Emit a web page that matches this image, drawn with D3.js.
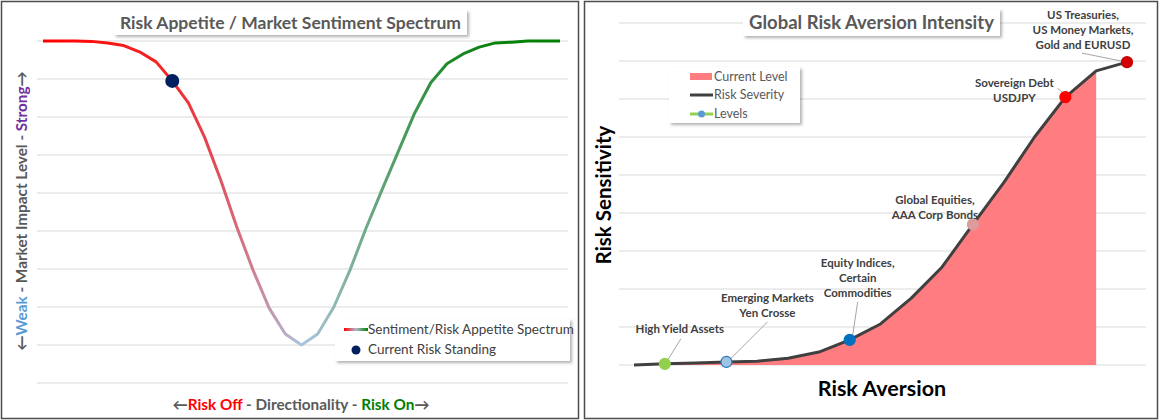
<!DOCTYPE html>
<html>
<head>
<meta charset="utf-8">
<script src="https://cdn.jsdelivr.net/npm/d3@7"></script>
<style>
    body { margin: 0; background: #fff; }
    svg { display: block; }
    text { font-family: Lato, "Open Sans", sans-serif; }
</style>
</head>
<body>
<svg id="chart" width="1160" height="420"></svg>
<script>
// Left panel: sentiment spectrum, 33 steps from risk off to risk on
const spectrumSteps = [-16, -15, -14, -13, -12, -11, -10, -9, -8, -7, -6, -5, -4, -3, -2, -1, 0,
    1, 2, 3, 4, 5, 6, 7, 8, 9, 10, 11, 12, 13, 14, 15, 16];
const spectrumValues = [9.0, 9.0, 9.0, 8.99, 8.95, 8.88, 8.71, 8.45, 7.95, 7.37, 6.47, 5.34, 4.1, 2.97, 1.97, 1.29, 1.0,
    1.29, 2.0, 2.97, 4.08, 5.1, 6.1, 7.1, 7.9, 8.4, 8.66, 8.84, 8.95, 8.97, 9.0, 9.0, 9.0];
const currentStanding = -8;
const impactLevels = [0, 1, 2, 3, 4, 5, 6, 7, 8, 9];

// Right panel: risk aversion intensity
const aversionSteps = [1, 2, 3, 4, 5, 6, 7, 8, 9, 10, 11, 12, 13, 14, 15, 16, 17];
const severityValues = [0, 0.03, 0.05, 0.08, 0.1, 0.18, 0.34, 0.66, 1.08, 1.76, 2.58, 3.7, 4.8, 6.0, 7.05, 7.74, 7.97];
const currentLevelValues = [0, 0.03, 0.05, 0.08, 0.1, 0.18, 0.34, 0.66, 1.08, 1.76, 2.58, 3.7, 4.8, 6.0, 7.05, 7.74, null];
const levelSteps = [2, 4, 8, 12, 15, 17];
const levelLabels = [
    ['High Yield Assets'],
    ['Emerging Markets', 'Yen Crosse'],
    ['Equity Indices,', 'Certain', 'Commodities'],
    ['Global Equities,', 'AAA Corp Bonds'],
    ['Sovereign Debt', 'USDJPY'],
    ['US Treasuries,', 'US Money Markets,', 'Gold and EURUSD'],
];
const sensitivityLevels = [0, 1, 2, 3, 4, 5, 6, 7, 8, 9];

const levelFill = ['#92d050', '#9dc3e6', '#0070c0', '#dd9c9c', '#ff0000', '#d40000'];
const levelStroke = ['#92d050', '#2e75b6', '#0070c0', '#dd9c9c', '#ff0000', '#c00000'];
// label centre offsets from each dot, and leader line ends
const labelLayout = [
    { dx: 15, dy: -35, lead: [[16, -25], [3, -4]] },
    { dx: 41, dy: -56.5, lead: [[41, -40], [4, -3]] },
    { dx: 8, dy: -62, lead: [[8, -38], [3, -5]] },
    { dx: -38, dy: -17, lead: null },
    { dx: -51, dy: -6.5, lead: [[-8, -9], [-2, -4]] },
    { dx: -44, dy: -32.5, lead: [[-45, -9], [-5, -1]] },
];

const svg = d3.select('#chart');
const defs = svg.append('defs');

const shadow = defs.append('filter').attr('id', 'shadow')
    .attr('x', '-10%').attr('y', '-20%').attr('width', '130%').attr('height', '160%');
shadow.append('feDropShadow')
    .attr('dx', 2).attr('dy', 2).attr('stdDeviation', 1.5)
    .attr('flood-color', '#000').attr('flood-opacity', 0.3);

// panel frames
svg.append('rect').attr('x', 1.5).attr('y', 1.5).attr('width', 577).attr('height', 417)
    .attr('fill', '#fff').attr('stroke', '#4d4d4d').attr('stroke-width', 1.5);
svg.append('rect').attr('x', 584.5).attr('y', 1.5).attr('width', 573).attr('height', 417)
    .attr('fill', '#fff').attr('stroke', '#4d4d4d').attr('stroke-width', 1.5);

function grid(g, y, ticks, x0, x1) {
    g.selectAll('line').data(ticks).enter().append('line')
        .attr('x1', x0).attr('x2', x1)
        .attr('y1', d => y(d)).attr('y2', d => y(d))
        .attr('stroke', '#d9d9d9').attr('stroke-width', 1);
}

function titleBox(cx, cy, w, h, size, label) {
    const g = svg.append('g');
    g.append('rect').attr('x', cx - w / 2).attr('y', cy - h / 2).attr('width', w).attr('height', h)
        .attr('fill', '#fff').attr('filter', 'url(#shadow)');
    g.append('text').attr('x', cx).attr('y', cy + 6).attr('text-anchor', 'middle')
        .attr('font-size', size).attr('font-weight', 'bold').attr('fill', '#595959')
        .text(label);
}

// ---------- left panel ----------
const xL = d3.scalePoint().domain(spectrumSteps).range([43, 560]);
const yL = d3.scaleLinear().domain([0, 9]).range([383, 41]);

grid(svg.append('g'), yL, impactLevels, 37, 568);

const grad = defs.append('linearGradient').attr('id', 'spectrum')
    .attr('gradientUnits', 'userSpaceOnUse')
    .attr('x1', xL.range()[0]).attr('x2', xL.range()[1]).attr('y1', 0).attr('y2', 0);
[
    [0, '#ff0000'], [0.25, '#f42828'], [0.33, '#e24a58'], [0.42, '#c98b9c'],
    [0.47, '#b7abc8'], [0.5, '#a9c6e2'], [0.54, '#9dbfc4'], [0.6, '#7cae98'],
    [0.7, '#4a9a5c'], [0.78, '#1f8a2e'], [0.86, '#0a820f'], [1, '#008000'],
].forEach(([o, c]) => grad.append('stop').attr('offset', o).attr('stop-color', c));

const spectrumLine = d3.line()
    .x((d, i) => xL(spectrumSteps[i]))
    .y(d => yL(d));

svg.append('path').datum(spectrumValues)
    .attr('d', spectrumLine)
    .attr('fill', 'none').attr('stroke', 'url(#spectrum)')
    .attr('stroke-width', 3).attr('stroke-linejoin', 'round');

svg.append('circle')
    .attr('cx', xL(currentStanding))
    .attr('cy', yL(spectrumValues[spectrumSteps.indexOf(currentStanding)]))
    .attr('r', 7).attr('fill', '#002060');

titleBox(290.5, 22.5, 353, 25, 17.5, 'Risk Appetite / Market Sentiment Spectrum');

// axis titles
const yTitleL = svg.append('text')
    .attr('transform', 'translate(27,211) rotate(-90)')
    .attr('text-anchor', 'middle').attr('font-size', 15.3).attr('font-weight', 'bold').attr('fill', '#595959');
yTitleL.append('tspan').text('←');
yTitleL.append('tspan').attr('fill', '#5b9bd5').text('Weak');
yTitleL.append('tspan').text(' - Market Impact Level - ');
yTitleL.append('tspan').attr('fill', '#7030a0').text('Strong');
yTitleL.append('tspan').text('→');

const xTitleL = svg.append('text')
    .attr('x', 301).attr('y', 410)
    .attr('text-anchor', 'middle').attr('font-size', 15.3).attr('font-weight', 'bold').attr('fill', '#595959');
xTitleL.append('tspan').text('←');
xTitleL.append('tspan').attr('fill', '#ff0000').text('Risk Off');
xTitleL.append('tspan').text(' - Directionality - ');
xTitleL.append('tspan').attr('fill', '#008000').text('Risk On');
xTitleL.append('tspan').text('→');

// left legend
const legL = svg.append('g').attr('transform', 'translate(335,319)');
legL.append('rect').attr('width', 235).attr('height', 42).attr('fill', '#fff').attr('filter', 'url(#shadow)');
const legGrad = defs.append('linearGradient').attr('id', 'spectrumLegend');
[[0, '#ff0000'], [0.5, '#b0b8d0'], [1, '#008000']]
    .forEach(([o, c]) => legGrad.append('stop').attr('offset', o).attr('stop-color', c));
legL.append('rect').attr('x', 9).attr('y', 9).attr('width', 24).attr('height', 3).attr('fill', 'url(#spectrumLegend)');
legL.append('text').attr('x', 33).attr('y', 15).attr('font-size', 13.5).attr('fill', '#404040')
    .text('Sentiment/Risk Appetite Spectrum');
legL.append('circle').attr('cx', 21).attr('cy', 31).attr('r', 4.5).attr('fill', '#002060');
legL.append('text').attr('x', 33).attr('y', 35).attr('font-size', 13.5).attr('fill', '#404040')
    .text('Current Risk Standing');

// ---------- right panel ----------
const xR = d3.scalePoint().domain(aversionSteps).range([634, 1127]);
const yR = d3.scaleLinear().domain([0, 9]).range([365, 23]);

grid(svg.append('g'), yR, sensitivityLevels, 619, 1146);

const area = d3.area()
    .defined(d => d != null)
    .x((d, i) => xR(aversionSteps[i]))
    .y0(yR(0))
    .y1(d => yR(d));

svg.append('path').datum(currentLevelValues)
    .attr('d', area).attr('fill', '#ff7c80');

const severityLine = d3.line()
    .x((d, i) => xR(aversionSteps[i]))
    .y(d => yR(d));

svg.append('path').datum(severityValues)
    .attr('d', severityLine)
    .attr('fill', 'none').attr('stroke', '#404040')
    .attr('stroke-width', 3).attr('stroke-linejoin', 'round');

titleBox(871.5, 22.5, 257, 27, 18.5, 'Global Risk Aversion Intensity');

// level markers with labels
levelSteps.forEach((s, i) => {
    const cx = xR(s);
    const cy = yR(severityValues[aversionSteps.indexOf(s)]);
    const lay = labelLayout[i];
    if (lay.lead) {
        svg.append('line')
            .attr('x1', cx + lay.lead[0][0]).attr('y1', cy + lay.lead[0][1])
            .attr('x2', cx + lay.lead[1][0]).attr('y2', cy + lay.lead[1][1])
            .attr('stroke', '#a6a6a6').attr('stroke-width', 1);
    }
    svg.append('circle').attr('cx', cx).attr('cy', cy).attr('r', 5.5)
        .attr('fill', levelFill[i]).attr('stroke', levelStroke[i]).attr('stroke-width', 1.2);
    const lines = levelLabels[i];
    const t = svg.append('text')
        .attr('text-anchor', 'middle').attr('font-size', 11.5).attr('font-weight', 'bold').attr('fill', '#404040');
    lines.forEach((ln, j) => {
        t.append('tspan')
            .attr('x', cx + lay.dx)
            .attr('y', cy + lay.dy + (j - (lines.length - 1) / 2) * 15 + 4)
            .text(ln);
    });
});

// right legend
const legR = svg.append('g').attr('transform', 'translate(669,67)');
legR.append('rect').attr('width', 131).attr('height', 56).attr('fill', '#fff').attr('filter', 'url(#shadow)');
legR.append('rect').attr('x', 21).attr('y', 6).attr('width', 22).attr('height', 7).attr('fill', '#ff7c80');
legR.append('line').attr('x1', 21).attr('x2', 44).attr('y1', 28).attr('y2', 28)
    .attr('stroke', '#404040').attr('stroke-width', 3);
legR.append('line').attr('x1', 21).attr('x2', 44).attr('y1', 47).attr('y2', 47)
    .attr('stroke', '#92d050').attr('stroke-width', 3);
legR.append('circle').attr('cx', 32.5).attr('cy', 47).attr('r', 3.5).attr('fill', '#5b9bd5');
[['Current Level', 14], ['Risk Severity', 32], ['Levels', 51]].forEach(([label, y]) => {
    legR.append('text').attr('x', 45).attr('y', y).attr('font-size', 12.5).attr('fill', '#595959').text(label);
});

svg.append('text')
    .attr('transform', 'translate(611,195) rotate(-90)')
    .attr('text-anchor', 'middle').attr('font-size', 20.5).attr('font-weight', 'bold').attr('fill', '#000')
    .text('Risk Sensitivity');

svg.append('text')
    .attr('x', 882).attr('y', 396).attr('text-anchor', 'middle')
    .attr('font-size', 21.5).attr('fill', '#000').attr('font-weight', 'bold')
    .text('Risk Aversion');
</script>
</body>
</html>
